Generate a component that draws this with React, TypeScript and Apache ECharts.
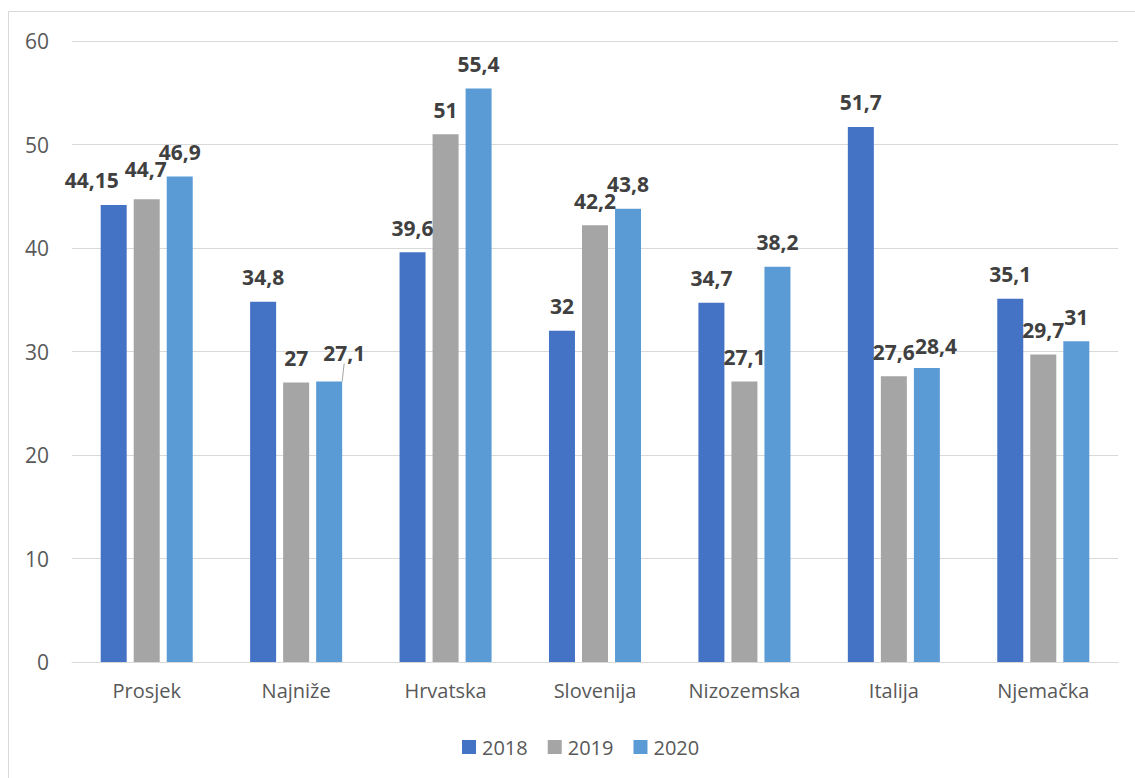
import React, { useEffect, useRef } from "react";
import * as echarts from "echarts";

const categories = ["Prosjek", "Najniže", "Hrvatska", "Slovenija", "Nizozemska", "Italija", "Njemačka"];
const seriesNames = ["2018", "2019", "2020"];
const values2018 = [44.15, 34.8, 39.6, 32, 34.7, 51.7, 35.1];
const values2019 = [44.7, 27, 51, 42.2, 27.1, 27.6, 29.7];
const values2020 = [46.9, 27.1, 55.4, 43.8, 38.2, 28.4, 31];
const yTicks = [0, 10, 20, 30, 40, 50, 60];

const colors = ["#4472C4", "#A5A5A5", "#5B9BD5"];
// label nudges (style only): [seriesIndex, dataIndex, dx, dy, leaderLine]
const labelNudges: [number, number, number, number, boolean][] = [
  [0, 0, -22, -1, false],
  [1, 0, -1, -6, false],
  [2, 1, 15, -4, true],
  [2, 5, 9, 2, false],
];

const FONT = "'Open Sans', 'Noto Sans', sans-serif";

export default function App() {
  const ref = useRef<HTMLDivElement>(null);
  useEffect(() => {
    if (!ref.current) return;
    const chart = echarts.init(ref.current, null, { renderer: "svg" });
    const all = [values2018, values2019, values2020];
    const fmt = (v: number) => String(v).replace(".", ",");
    const series = all.map((vals, si) => ({
      type: "bar",
      name: seriesNames[si],
      barWidth: 26,
      barGap: "27%",
      itemStyle: { color: colors[si] },
      label: {
        show: true,
        position: "top",
        distance: 14,
        fontFamily: FONT,
        fontSize: 21,
        fontWeight: "bold",
        color: "#404040",
        formatter: (p: any) => fmt(p.value),
      },
      labelLine: { show: false, lineStyle: { color: "#A6A6A6", width: 1 } },
      labelLayout: (p: any) => {
        const n = labelNudges.find((x) => x[0] === si && x[1] === p.dataIndex);
        return n ? { dx: n[2], dy: n[3] } : {};
      },
      data: vals.map((v, di) => {
        const n = labelNudges.find((x) => x[0] === si && x[1] === di);
        if (n && n[4]) {
          return { value: v, labelLine: { show: true, lineStyle: { color: "#A6A6A6", width: 1 } } };
        }
        return v;
      }),
    }));
    chart.setOption({
      animation: false,
      color: colors,
      graphic: [
        {
          type: "rect",
          shape: { x: 8.5, y: 11.5, width: 1300, height: 900 },
          style: { fill: "none", stroke: "#D9D9D9", lineWidth: 1 },
          silent: true,
          z: -10,
        },
      ],
      grid: { left: 72, right: 17, top: 41, bottom: 116 },
      legend: {
        left: 462,
        top: 737,
        padding: 0,
        itemWidth: 14,
        itemHeight: 14,
        itemGap: 20,
        icon: "rect",
        textStyle: { fontFamily: FONT, fontSize: 20, color: "#595959", padding: [0, 0, 0, 1] },
        data: seriesNames,
      },
      xAxis: {
        type: "category",
        data: categories,
        axisLine: { lineStyle: { color: "#D9D9D9", width: 1 } },
        axisTick: { show: false },
        axisLabel: { fontFamily: FONT, fontSize: 20, color: "#595959", margin: 18 },
      },
      yAxis: {
        type: "value",
        min: yTicks[0],
        max: yTicks[yTicks.length - 1],
        interval: yTicks[1] - yTicks[0],
        axisLine: { show: false },
        axisTick: { show: false },
        splitLine: { lineStyle: { color: "#D9D9D9", width: 1 } },
        axisLabel: { fontFamily: FONT, fontSize: 21, color: "#595959", margin: 23 },
      },
      series,
    });
    return () => chart.dispose();
  }, []);
  return (
    <div
      ref={ref}
      style={{ position: "fixed", left: 0, top: 0, width: 1135, height: 778, background: "#fff" }}
    />
  );
}
